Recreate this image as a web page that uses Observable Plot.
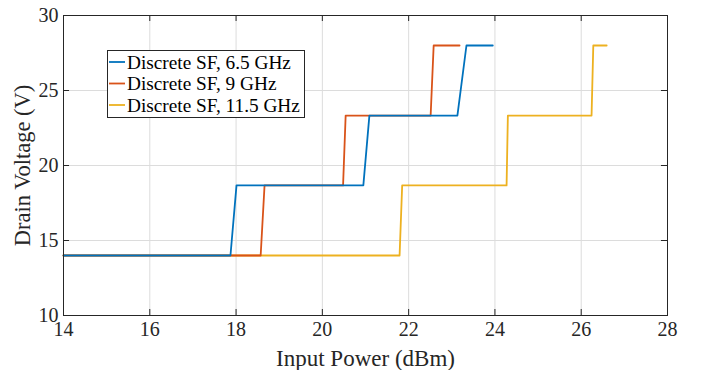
<!DOCTYPE html>
<html>
<head>
<meta charset="utf-8">
<script src="https://cdn.jsdelivr.net/npm/d3@7"></script>
<script src="https://cdn.jsdelivr.net/npm/@observablehq/plot@0.6"></script>
<style>
  html, body { margin: 0; padding: 0; background: #fff; }
  #wrap { position: relative; width: 707px; height: 370px; }
  #legend { position: absolute; left: 0; top: 0; }
</style>
</head>
<body>
<div id="wrap"></div>
<script>
// ---- data ----
const seriesNames = ["Discrete SF, 6.5 GHz", "Discrete SF, 9 GHz", "Discrete SF, 11.5 GHz"];
const seriesColors = ["#0072BD", "#D95319", "#EDB120"];
const levelsV = [14, 14, 18.67, 18.67, 23.33, 23.33, 28, 28];
const x65 = [14, 17.87, 18.01, 20.95, 21.09, 23.13, 23.34, 23.95];
const x9 = [14, 18.57, 18.66, 20.48, 20.54, 22.51, 22.58, 23.18];
const x115 = [14, 21.79, 21.85, 24.27, 24.30, 26.24, 26.28, 26.59];
const xTicks = [14, 16, 18, 20, 22, 24, 26, 28];
const yTicks = [10, 15, 20, 25, 30];

const seriesX = [x65, x9, x115];
const rows = [];
seriesX.forEach((xs, i) => xs.forEach((x, j) => rows.push({series: seriesNames[i], x, y: levelsV[j], order: i})));

const font = "'Liberation Serif', 'Times New Roman', serif";
const ink = "#262626";
const xTickLen = 0.14;  // in x data units (~6px)
const yTickLen = 0.4;   // in y data units (~6px)

const drawOrder = [2, 1, 0]; // yellow under red under blue

const plot = Plot.plot({
  width: 707,
  height: 370,
  marginLeft: 63,
  marginRight: 40,
  marginTop: 15,
  marginBottom: 55,
  style: {fontFamily: font, color: ink, background: "#fff"},
  x: {domain: [14, 28], ticks: xTicks},
  y: {domain: [10, 30], ticks: yTicks},
  marks: [
    Plot.gridX(xTicks, {stroke: "#dcdcdc", strokeOpacity: 1}),
    Plot.gridY(yTicks, {stroke: "#dcdcdc", strokeOpacity: 1}),
    ...drawOrder.map(i => Plot.line(rows.filter(d => d.order === i), {
      x: "x", y: "y", stroke: seriesColors[i], strokeWidth: 1.8
    })),
    // inward ticks (bottom, top, left, right)
    Plot.ruleX(xTicks, {y1: 10, y2: 10 + yTickLen, stroke: ink}),
    Plot.ruleX(xTicks, {y1: 30, y2: 30 - yTickLen, stroke: ink}),
    Plot.ruleY(yTicks, {x1: 14, x2: 14 + xTickLen, stroke: ink}),
    Plot.ruleY(yTicks, {x1: 28, x2: 28 - xTickLen, stroke: ink}),
    Plot.frame({stroke: ink}),
    Plot.axisX(xTicks, {tickSize: 0, tickPadding: 6, fontSize: 20, label: null, fill: ink}),
    Plot.axisY(yTicks, {tickSize: 0, tickPadding: 5, fontSize: 20, label: null, fill: ink}),
    Plot.text(["Input Power (dBm)"], {frameAnchor: "bottom", dy: 34, fontSize: 23, fill: ink, lineAnchor: "top", textAnchor: "middle"}),
    Plot.text(["Drain Voltage (V)"], {frameAnchor: "left", dx: -41, rotate: -90, fontSize: 22.5, fill: ink, lineAnchor: "middle", textAnchor: "middle"})
  ]
});
const wrap = document.getElementById("wrap");
wrap.appendChild(plot);

// ---- legend overlay ----
const ns = "http://www.w3.org/2000/svg";
const lg = document.createElementNS(ns, "svg");
lg.setAttribute("id", "legend");
lg.setAttribute("width", 707);
lg.setAttribute("height", 370);
lg.style.pointerEvents = "none";
const box = document.createElementNS(ns, "rect");
box.setAttribute("x", 107.5); box.setAttribute("y", 50.5);
box.setAttribute("width", 197); box.setAttribute("height", 67);
box.setAttribute("fill", "#fff"); box.setAttribute("stroke", ink);
lg.appendChild(box);
seriesNames.forEach((name, i) => {
  const cy = 62 + i * 21.5;
  const ln = document.createElementNS(ns, "line");
  ln.setAttribute("x1", 109); ln.setAttribute("x2", 125);
  ln.setAttribute("y1", cy); ln.setAttribute("y2", cy);
  ln.setAttribute("stroke", seriesColors[i]); ln.setAttribute("stroke-width", 1.8);
  lg.appendChild(ln);
  const t = document.createElementNS(ns, "text");
  t.setAttribute("x", 127); t.setAttribute("y", cy);
  t.setAttribute("dy", "0.35em");
  t.setAttribute("font-family", font);
  t.setAttribute("font-size", 19.3);
  t.setAttribute("fill", "#000");
  t.textContent = name;
  lg.appendChild(t);
});
wrap.appendChild(lg);
</script>
</body>
</html>
